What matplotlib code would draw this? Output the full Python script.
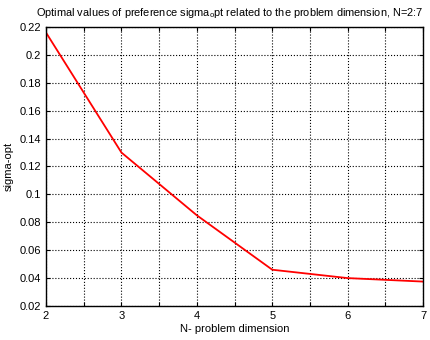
import numpy as np
import matplotlib
matplotlib.use("Agg")
import matplotlib.pyplot as plt

plt.rcParams["font.family"] = ["Liberation Sans", "DejaVu Sans"]
plt.rcParams["mathtext.fontset"] = "custom"
plt.rcParams["mathtext.rm"] = "Liberation Sans"
plt.rcParams["mathtext.it"] = "Liberation Sans"

# ── data ──────────────────────────────────────────────────────────────────────

dims = [2, 3, 4, 5, 6, 7]
sigma_opt = [0.216, 0.130, 0.085, 0.046, 0.040, 0.0375]

x_ticks = np.arange(2, 7.01, 0.5)
x_labels = ["2", "", "3", "", "4", "", "5", "", "6", "", "7"]
y_ticks = np.arange(0.02, 0.2201, 0.02)
y_labels = ["0.02", "0.04", "0.06", "0.08", "0.1", "0.12", "0.14", "0.16", "0.18", "0.2", "0.22"]

# ── plot ──────────────────────────────────────────────────────────────────────

fig = plt.figure(figsize=(4.3, 3.4), dpi=100)
ax = fig.add_axes([0.107, 0.1, 0.877, 0.8206])

ax.plot(dims, sigma_opt, color="red", linewidth=1.3)

ax.set_xlim(2, 7)
ax.set_ylim(0.02, 0.22)
ax.set_xticks(x_ticks)
ax.set_xticklabels(x_labels)
ax.set_yticks(y_ticks)
ax.set_yticklabels(y_labels)
ax.tick_params(direction="in", labelsize=8, length=3, width=0.8,
               top=True, right=True)
ax.grid(True, color="black", linestyle=":", linewidth=0.8)
for s in ax.spines.values():
    s.set_linewidth(1.0)

ax.set_xlabel("N- problem dimension", fontsize=8, labelpad=2)
ax.set_ylabel("sigma-opt", fontsize=8, labelpad=4)
fig.text(0.535, 0.942,
         r"Optimal values of preference sigma$_{\rm o}$pt related to the problem dimension, N=2:7",
         fontsize=7.9, ha="center", va="bottom")

fig.savefig("out.png", dpi=100)
